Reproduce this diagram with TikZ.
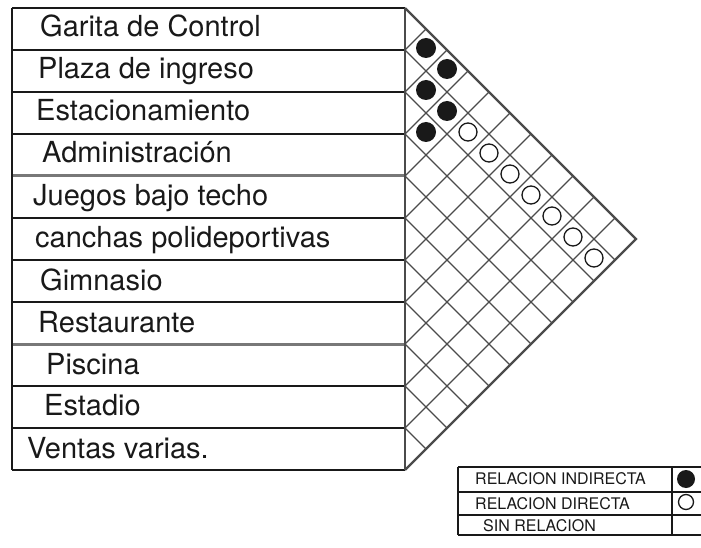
\documentclass[tikz,border=0pt]{standalone}
\usepackage{fontspec}
\setmainfont{TeX Gyre Heros}
\usepackage{tikz}
\usetikzlibrary{positioning, calc}
\usepackage{xcolor}
\definecolor{inkblack}{RGB}{25,25,25}
\definecolor{gridgray}{RGB}{75,75,75}
\definecolor{heavygray}{RGB}{120,120,120}

\begin{document}
\begin{tikzpicture}[x=1pt, y=-1pt,
    rowlabel/.style={anchor=base west, inner sep=0pt, text=inkblack, font=\fontsize{29}{30}\selectfont},
    leglabel/.style={anchor=base west, inner sep=0pt, text=inkblack, font=\fontsize{16}{17}\selectfont},
    rowline/.style={inkblack, line width=1.6pt},
    heavyline/.style={heavygray, line width=3pt},
    gridline/.style={gridgray, line width=1.4pt},
    rimline/.style={gridgray, line width=2.4pt}]
  \useasboundingbox (0,0) rectangle (701,548);
  % Table
  \foreach \k in {1,2,3,5,6,7,9,10}
    \draw[rowline] (12,8+42*\k) -- (405,8+42*\k);
  \draw[heavyline] (12,176) -- (405,176);
  \draw[heavyline] (12,344) -- (405,344);
  \draw[rowline, line width=2.2pt] (12,8) -- (405,8);
  \draw[rowline, line width=2.2pt] (12,470) -- (405,470);
  \draw[rowline, line width=2pt] (12,8) -- (12,470);
  \draw[gridline] (405,8) -- (405,470);
  % Labels
  \node[rowlabel] (garita) at (40,37) {Garita de Control};
  \node[rowlabel] (plaza) at (38,79) {Plaza de ingreso};
  \node[rowlabel] (estac) at (36,121) {Estacionamiento};
  \node[rowlabel] (admin) at (42,163) {Administración};
  \node[rowlabel] (juegos) at (33,205) {Juegos bajo techo};
  \node[rowlabel] (canchas) at (35,247) {canchas polideportivas};
  \node[rowlabel] (gimnasio) at (40,290) {Gimnasio};
  \node[rowlabel] (restaurante) at (38,332) {Restaurante};
  \node[rowlabel] (piscina) at (46,374) {Piscina};
  \node[rowlabel] (estadio) at (44,415) {Estadio};
  \node[rowlabel] (ventas) at (27,458) {Ventas varias.};
  % Grid
  \foreach \k in {1,...,10} {
    \draw[gridline] (405,8+42*\k) -- ++(231-21*\k,231-21*\k);
    \draw[gridline] (405,8+42*\k) -- ++(21*\k,-21*\k);
  }
  \draw[rimline] (405,8) -- (636,239) -- (405,470);
  % Markers
  \foreach \i/\j in {0/1,0/2,1/2,1/3,2/3}
    \fill[inkblack] (405+21*\j-21*\i, 27+21*\i+21*\j) circle (10pt);
  \foreach \j in {4,...,10}
    \draw[inkblack, line width=1.3pt] (405+21*\j-21, 48+21*\j) circle (9pt);
  % Legend
  \draw[rowline] (458,467) -- (701,467);
  \draw[rowline, line width=1.2pt] (458,492) -- (701,492);
  \draw[rowline, line width=1.2pt] (458,515) -- (701,515);
  \draw[rowline] (458,535) -- (701,535);
  \draw[rowline] (458,467) -- (458,535);
  \draw[rowline, line width=1.2pt] (672,467) -- (672,535);
  \node[leglabel] (legind) at (475,484) {RELACION INDIRECTA};
  \node[leglabel] (legdir) at (475,509) {RELACION DIRECTA};
  \node[leglabel] (legsin) at (483,531) {SIN RELACION};
  \fill[inkblack] (686,479) circle (9pt);
  \draw[inkblack, line width=1.3pt] (686,502) circle (7.5pt);
\end{tikzpicture}
\end{document}
